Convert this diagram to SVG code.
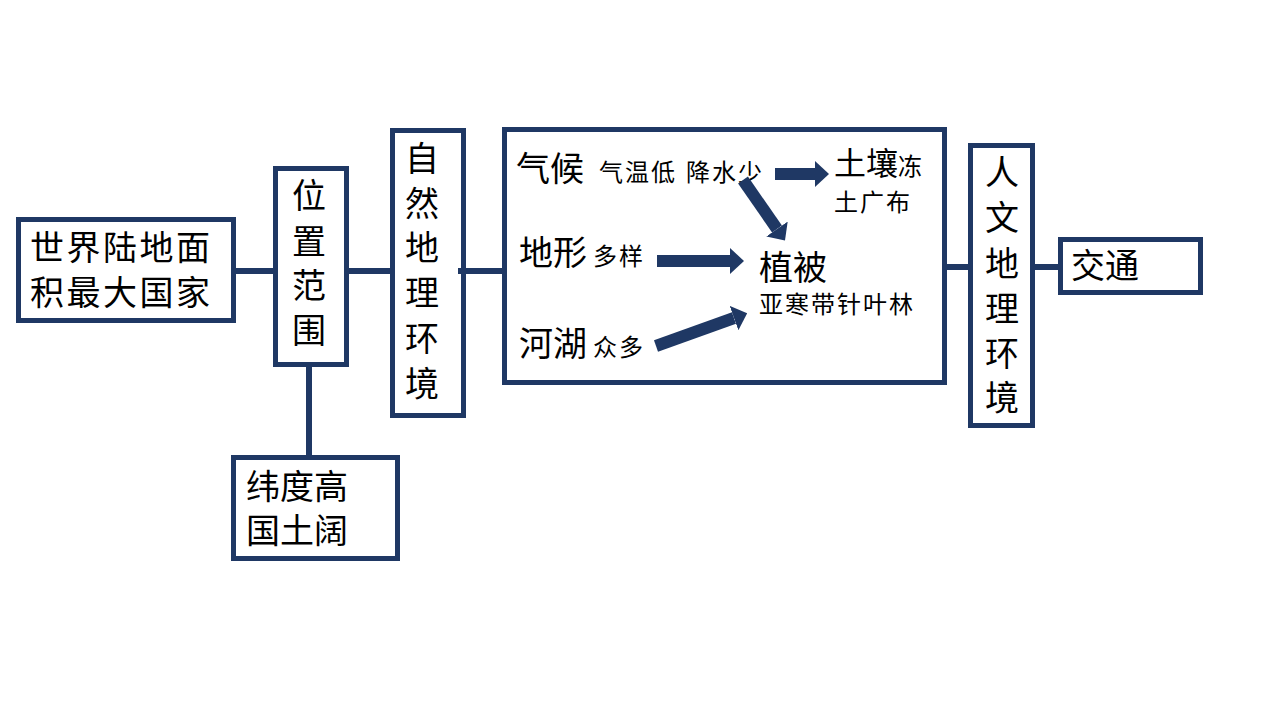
<svg xmlns="http://www.w3.org/2000/svg" width="1280" height="720" viewBox="0 0 1280 720">
<defs>
<style>
.box{fill:#ffffff;stroke:#1f3864;stroke-width:5}
.con{stroke:#1f3864;stroke-width:6;fill:none}
.arr{stroke:#1f3864;stroke-width:12;fill:none}
.t{font-family:"Liberation Serif","Noto Sans CJK SC",serif;fill:#000000}
.L{font-size:34px}
.S{font-size:24px;letter-spacing:2px}
</style>
<marker id="ah" markerUnits="userSpaceOnUse" markerWidth="14" markerHeight="26" refX="0" refY="13" orient="auto" viewBox="0 0 14 26">
<path d="M0,0 L14,13 L0,26 Z" fill="#1f3864"/>
</marker>
</defs>
<rect width="1280" height="720" fill="#ffffff"/>
<g id="n1">
<rect class="box" x="18.5" y="219.5" width="215" height="101"/>
<text class="t L" x="30" y="260" letter-spacing="2.5">世界陆地面</text>
<text class="t L" x="30" y="305" letter-spacing="2.5">积最大国家</text>
</g>
<g id="n2">
<rect class="box" x="275.5" y="168.5" width="71" height="196"/>
<text class="t L" text-anchor="middle" x="309" y="208">位</text>
<text class="t L" text-anchor="middle" x="309" y="254">置</text>
<text class="t L" text-anchor="middle" x="309" y="298">范</text>
<text class="t L" text-anchor="middle" x="309" y="343">围</text>
</g>
<g id="n3">
<rect class="box" x="392.5" y="130.5" width="71" height="285"/>
<text class="t L" text-anchor="middle" x="422" y="171">自</text>
<text class="t L" text-anchor="middle" x="422" y="216">然</text>
<text class="t L" text-anchor="middle" x="422" y="260">地</text>
<text class="t L" text-anchor="middle" x="422" y="305">理</text>
<text class="t L" text-anchor="middle" x="422" y="351">环</text>
<text class="t L" text-anchor="middle" x="422" y="396">境</text>
</g>
<g id="n4">
<rect class="box" x="504.5" y="129.5" width="440" height="253"/>
<text class="t L" x="516" y="181">气候</text>
<text class="t S" x="599" y="181">气温低</text>
<text class="t S" x="686" y="181">降水少</text>
<text class="t" font-size="32" x="834" y="175">土壤</text>
<text class="t S" x="898" y="175">冻</text>
<text class="t S" x="834" y="211" letter-spacing="1">土广布</text>
<text class="t L" x="519" y="265">地形</text>
<text class="t S" x="593" y="265">多样</text>
<text class="t L" x="759" y="280">植被</text>
<text class="t S" x="759" y="313">亚寒带针叶林</text>
<text class="t L" x="519" y="356">河湖</text>
<text class="t S" x="593" y="356">众多</text>
</g>
<g id="n5">
<rect class="box" x="970.5" y="145.5" width="62" height="280"/>
<text class="t L" text-anchor="middle" x="1002" y="185">人</text>
<text class="t L" text-anchor="middle" x="1002" y="230">文</text>
<text class="t L" text-anchor="middle" x="1002" y="276">地</text>
<text class="t L" text-anchor="middle" x="1002" y="321">理</text>
<text class="t L" text-anchor="middle" x="1002" y="366">环</text>
<text class="t L" text-anchor="middle" x="1002" y="410">境</text>
</g>
<g id="n6">
<rect class="box" x="1060.5" y="239.5" width="140" height="53"/>
<text class="t L" x="1071" y="278">交通</text>
</g>
<g id="n7">
<rect class="box" x="233.5" y="457.5" width="164" height="101"/>
<text class="t L" x="246" y="499">纬度高</text>
<text class="t L" x="246" y="543">国土阔</text>
</g>
<g id="connectors">
<line class="con" x1="236" y1="271" x2="273" y2="271"/>
<line class="con" x1="349" y1="271" x2="390" y2="271"/>
<line class="con" x1="458" y1="271" x2="502" y2="271"/>
<line class="con" x1="309" y1="367" x2="309" y2="455"/>
<line class="con" x1="947" y1="267" x2="968" y2="267"/>
<line class="con" x1="1035" y1="267" x2="1058" y2="267"/>
<line class="arr" x1="775" y1="174" x2="815" y2="174" marker-end="url(#ah)"/>
<line class="arr" x1="743" y1="180" x2="777" y2="229" stroke-width="13" marker-end="url(#ah)"/>
<line class="arr" x1="657" y1="261" x2="730" y2="261" marker-end="url(#ah)"/>
<line class="arr" x1="656" y1="346" x2="734" y2="318" marker-end="url(#ah)"/>
</g>
</svg>
